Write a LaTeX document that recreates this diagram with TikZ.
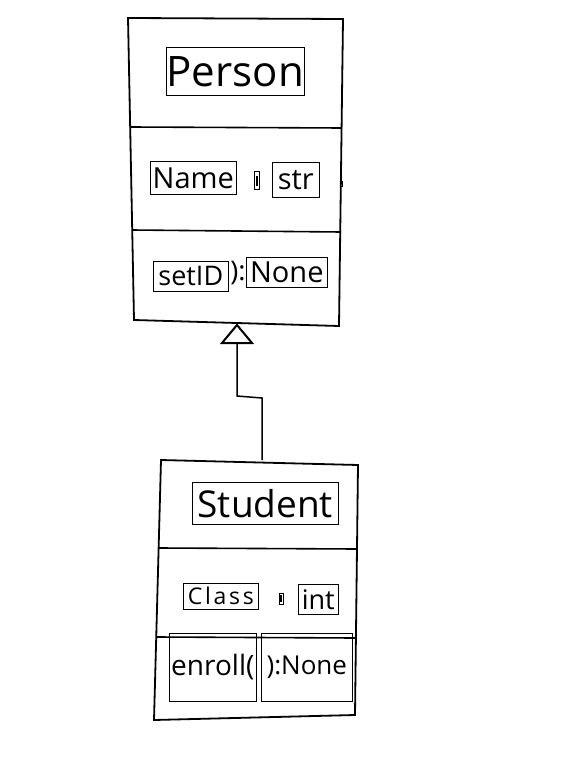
\documentclass[tikz,border=0pt]{standalone}
\usepackage{fontspec}
\setmainfont{Open Sans}
\begin{document}
\begin{tikzpicture}[x=1pt,y=-1pt,
  outline/.style={draw=black,line width=1.8pt},
  divider/.style={draw=black,line width=1.6pt},
  annot/.style={draw=black,line width=0.6pt,inner sep=0pt,anchor=north west},
  conn/.style={draw=black,line width=1.5pt}]
\fill[white] (0,0) rectangle (561,778);
\useasboundingbox (0,0) rectangle (561,778);
% Person class
\coordinate (p1) at (128,18);
\coordinate (p2) at (343,19);
\coordinate (p3) at (339,326);
\coordinate (p4) at (134,320);
\draw[outline] (p1) -- (p2) -- (p3) -- (p4) -- cycle;
\draw[divider] (130,127) -- (342,128);
\draw[divider] (132,230) -- (341,232);
% Person texts
\node[annot,minimum width=138,minimum height=48,font=\fontsize{42}{42}\selectfont] (ptitle) at (166,47) {Person};
\node[annot,minimum width=86,minimum height=33,font=\fontsize{29}{29}\selectfont] (pname) at (150,161) {Name};
\node[annot,minimum width=5,minimum height=18] (pcolon) at (254,171) {};
\fill[black] (255.5,176) rectangle (257.5,186);
\node[annot,minimum width=47,minimum height=35,font=\fontsize{29}{29}\selectfont] (pstr) at (272,162) {str};
\node[annot,minimum width=2,minimum height=5] (pmark) at (340,181) {};
\node[annot,minimum width=75,minimum height=30,font=\fontsize{27}{27}\selectfont] (psetid) at (153,261) {setID};
\node[font=\fontsize{27}{27}\selectfont,inner sep=0pt] (pparen) at (238,273) {):};
\node[annot,minimum width=81,minimum height=30,font=\fontsize{29}{29}\selectfont] (pnone) at (246,257) {None};
% Student class
\coordinate (s1) at (161,460);
\coordinate (s2) at (358,465);
\coordinate (s3) at (355,715);
\coordinate (s4) at (154,720);
\draw[outline] (s1) -- (s2) -- (s3) -- (s4) -- cycle;
\draw[divider] (159,548) -- (357,549);
\draw[divider] (157,637) -- (356,638);
\node[annot,minimum width=146,minimum height=42,font=\fontsize{37}{37}\selectfont] (stitle) at (192,482) {Student};
\node[annot,minimum width=75,minimum height=26,font=\fontsize{23}{23}\selectfont\addfontfeature{LetterSpace=12}] (sclass) at (183,583) {Class};
\node[annot,minimum width=4,minimum height=11] (scolon) at (279,593) {};
\fill[black] (280,595) rectangle (282,602);
\node[annot,minimum width=40,minimum height=30,font=\fontsize{27}{27}\selectfont] (sint) at (298,584) {int};
\node[annot,minimum width=87,minimum height=68,font=\fontsize{28}{28}\selectfont] (senroll) at (169,633) {\hfill enroll(};
\node[annot,minimum width=91,minimum height=68,font=\fontsize{26}{26}\selectfont] (snone) at (261,633) {):None};
% inheritance connector
\coordinate (top) at (262,460);
\coordinate (apex) at (237,325);
\coordinate (bl) at (222,343);
\coordinate (br) at (252,343);
\coordinate (base) at (237,343);
\draw[conn] (top) -- (262,398) -- (237,396) -- (base);
\draw[black,line width=2pt,fill=white,line join=miter] (apex) -- (br) -- (bl) -- cycle;
\end{tikzpicture}
\end{document}
